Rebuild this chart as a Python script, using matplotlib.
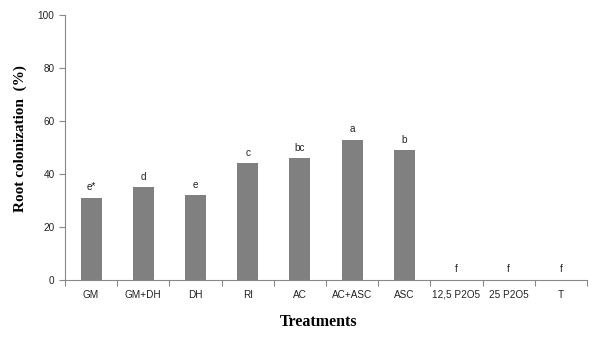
import matplotlib
matplotlib.use("Agg")
import matplotlib.pyplot as plt
import numpy as np

treatments = ["GM", "GM+DH", "DH", "RI", "AC", "AC+ASC", "ASC",
              "12,5 P2O5", "25 P2O5", "T"]
colonization = [31, 35, 32, 44, 46, 53, 49, 0, 0, 0]
letters = ["e*", "d", "e", "c", "bc", "a", "b", "f", "f", "f"]

fig = plt.figure(figsize=(6.02, 3.38), dpi=100)
ax = fig.add_axes([0.108, 0.1716, 0.867, 0.784])

x = np.arange(len(treatments))
ax.bar(x, colonization, width=0.4, color="#808080", zorder=2)

for xi, v, lab in zip(x, colonization, letters):
    ax.annotate(lab, (xi, v), xytext=(0, 4), textcoords="offset points",
                ha="center", va="bottom", fontsize=7.2,
                family="Liberation Sans", color="#222222")

ax.set_xlim(-0.5, len(treatments) - 0.5)
ax.set_ylim(0, 100)
ax.set_yticks(np.arange(0, 101, 20))

# x ticks sit between categories, labels centered under bars
ax.set_xticks(np.arange(-0.5, len(treatments)), minor=False)
ax.set_xticklabels([])
ax.set_xticks(x, minor=True)
ax.set_xticklabels(treatments, minor=True)
ax.tick_params(axis="x", which="minor", length=0, pad=7)
ax.tick_params(axis="x", which="major", length=4, color="#888888", direction="out")
ax.tick_params(axis="y", length=4, color="#888888", direction="out")

for lab in ax.get_xticklabels(minor=True) + ax.get_yticklabels():
    lab.set_family("Liberation Sans")
    lab.set_fontsize(7.2)
    lab.set_color("#222222")

for side in ["top", "right"]:
    ax.spines[side].set_visible(False)
for side in ["left", "bottom"]:
    ax.spines[side].set_color("#888888")
    ax.spines[side].set_linewidth(0.8)

ax.set_ylabel("Root colonization  (%)", family="Liberation Serif",
              fontweight="bold", fontsize=11)
ax.yaxis.set_label_coords(-0.072, 0.532)
ax.set_xlabel("Treatments", family="Liberation Serif",
              fontweight="bold", fontsize=11.5)
ax.xaxis.set_label_coords(0.485, -0.13)

fig.savefig("out.png", dpi=100)
